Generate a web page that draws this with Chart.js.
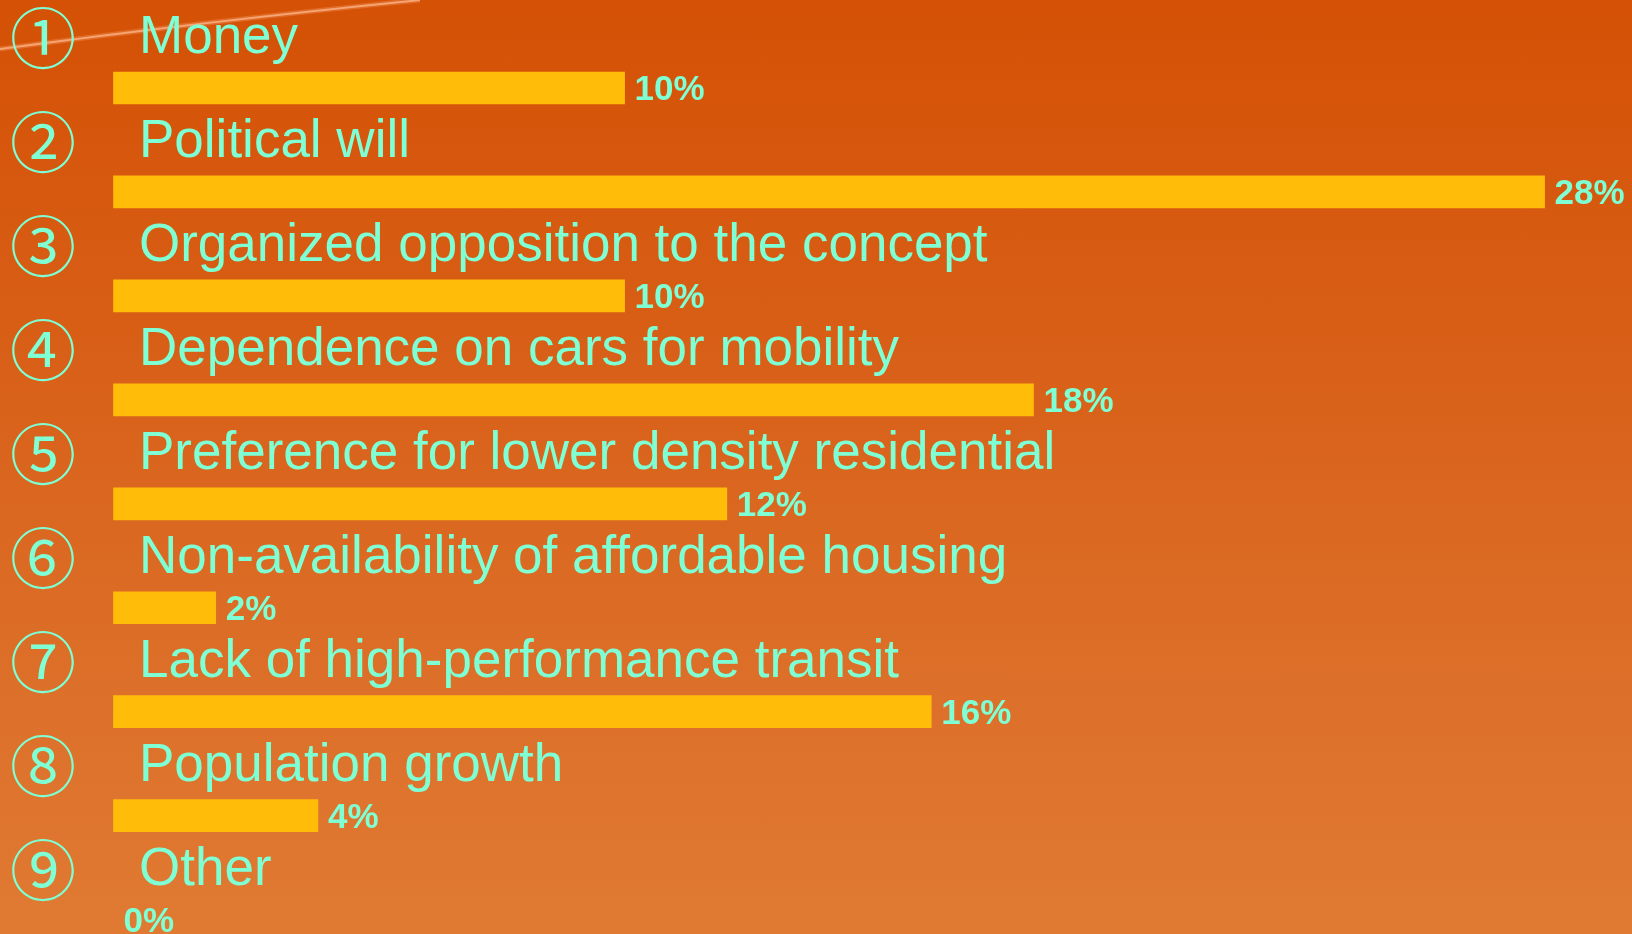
<!DOCTYPE html>
<html>
<head>
<meta charset="utf-8">
<script src="https://cdn.jsdelivr.net/npm/chart.js@4.4.1/dist/chart.umd.min.js"></script>
<style>
  html, body { margin: 0; padding: 0; }
  body { width: 1632px; height: 934px; overflow: hidden;
    background: linear-gradient(to bottom, #D45105 0%, #D85E16 35%, #DC6E28 70%, #E07A33 100%); }
  #wrap { position: relative; width: 1632px; height: 934px; }
</style>
</head>
<body>
<div id="wrap"><canvas id="c" width="1632" height="934"></canvas></div>
<script>
const categories = [
  "Money",
  "Political will",
  "Organized opposition to the concept",
  "Dependence on cars for mobility",
  "Preference for lower density residential",
  "Non-availability of affordable housing",
  "Lack of high-performance transit",
  "Population growth",
  "Other"
];
const markers = ["①","②","③","④","⑤","⑥","⑦","⑧","⑨"];
const values = [10, 28, 10, 18, 12, 2, 16, 4, 0];
const valueLabels = ["10%","28%","10%","18%","12%","2%","16%","4%","0%"];

const TEXT = "#7FFFD4";
const BAR = "#FFBC08";

const overlay = {
  id: "overlay",
  beforeDraw(chart) {
    const ctx = chart.ctx;
    ctx.save();
    ctx.strokeStyle = "rgba(255,170,120,0.3)";
    ctx.lineWidth = 5;
    ctx.beginPath();
    ctx.moveTo(0, 49);
    ctx.quadraticCurveTo(200, 22, 420, 0);
    ctx.stroke();
    ctx.strokeStyle = "rgba(255,190,150,0.7)";
    ctx.lineWidth = 1.8;
    ctx.beginPath();
    ctx.moveTo(0, 49);
    ctx.quadraticCurveTo(200, 22, 420, 0);
    ctx.stroke();
    ctx.restore();
  },
  afterDatasetsDraw(chart) {
    const ctx = chart.ctx;
    const y = chart.scales.y;
    const meta = chart.getDatasetMeta(0);
    ctx.save();
    ctx.fillStyle = TEXT;
    categories.forEach((cat, i) => {
      const cy = y.getPixelForValue(i);
      ctx.font = '66px "Noto Sans CJK JP"';
      ctx.textAlign = "center";
      ctx.textBaseline = "middle";
      ctx.fillText(markers[i], 43, cy - 50);
      ctx.font = '53px "Liberation Sans", Arial, sans-serif';
      ctx.textAlign = "left";
      ctx.textBaseline = "alphabetic";
      ctx.fillText(cat, 139, cy - 35);
      const bar = meta.data[i];
      ctx.font = 'bold 35px "Liberation Sans", Arial, sans-serif';
      ctx.fillText(valueLabels[i], bar.x + 10, cy + 12);
    });
    ctx.restore();
  }
};

new Chart(document.getElementById("c"), {
  type: "bar",
  data: {
    labels: categories,
    datasets: [{
      data: values,
      backgroundColor: (c) => (values[c.dataIndex] === 0 ? "rgba(0,0,0,0)" : BAR),
      borderWidth: 0,
      barThickness: 32,
      clip: false
    }]
  },
  options: {
    indexAxis: "y",
    responsive: false,
    animation: false,
    layout: { padding: { left: 113.5, right: 87.4, top: 88, bottom: 14.4 } },
    plugins: { legend: { display: false }, tooltip: { enabled: false } },
    scales: {
      x: { display: false, min: 0, max: 28 },
      y: { display: false, offset: false }
    }
  },
  plugins: [overlay]
});
</script>
</body>
</html>
